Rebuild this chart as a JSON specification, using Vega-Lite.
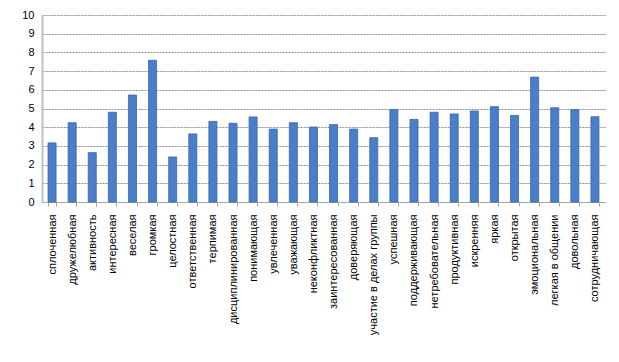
{
  "$schema": "https://vega.github.io/schema/vega-lite/v6.json",
  "width": 563,
  "height": 187,
  "autosize": {"type": "none"},
  "padding": {"left": 42, "top": 15, "right": 14, "bottom": 160},
  "background": "white",
  "data": {"values": [
    {"k": "сплоченная", "v": 3.16},
    {"k": "дружелюбная", "v": 4.24},
    {"k": "активность", "v": 2.64},
    {"k": "интересная", "v": 4.8},
    {"k": "веселая", "v": 5.72},
    {"k": "громкая", "v": 7.58},
    {"k": "целостная", "v": 2.41},
    {"k": "ответственная", "v": 3.64},
    {"k": "терпимая", "v": 4.31},
    {"k": "дисциплинированная", "v": 4.21},
    {"k": "понимающая", "v": 4.55},
    {"k": "увлеченная", "v": 3.9},
    {"k": "уважающая", "v": 4.24},
    {"k": "неконфликтная", "v": 4.01},
    {"k": "заинтересованная", "v": 4.14},
    {"k": "доверяющая", "v": 3.9},
    {"k": "участие в делах группы", "v": 3.44},
    {"k": "успешная", "v": 4.94},
    {"k": "поддерживающая", "v": 4.42},
    {"k": "нетребовательная", "v": 4.8},
    {"k": "продуктивная", "v": 4.71},
    {"k": "искренняя", "v": 4.87},
    {"k": "яркая", "v": 5.1},
    {"k": "открытая", "v": 4.63},
    {"k": "эмоциональная", "v": 6.68},
    {"k": "легкая в общении", "v": 5.04},
    {"k": "довольная", "v": 4.94},
    {"k": "сотрудничающая", "v": 4.56}
  ]},
  "mark": {"type": "bar", "fill": "#4a7ec9", "stroke": "#3a66a8", "strokeWidth": 0.8},
  "encoding": {
    "x": {
      "field": "k", "type": "nominal", "sort": null, "title": null,
      "scale": {"paddingInner": 0.6, "paddingOuter": 0.3},
      "axis": {
        "labelAngle": -90, "labelAlign": "right", "labelBaseline": "middle",
        "labelFont": "Liberation Sans", "labelFontSize": 11, "labelColor": "#000000",
        "labelPadding": 8, "labelOverlap": false, "tickBand": "extent", "tickSize": 4, "tickColor": "#a6a6a6",
        "domainColor": "#a6a6a6", "grid": false
      }
    },
    "y": {
      "field": "v", "type": "quantitative", "title": null,
      "scale": {"domain": [0, 10], "nice": false},
      "axis": {
        "values": [0,1,2,3,4,5,6,7,8,9,10],
        "labelFont": "Liberation Sans", "labelFontSize": 11, "labelColor": "#000000",
        "labelPadding": 8, "labelOverlap": false, "ticks": false, "domainColor": "#bfbfbf", "domainWidth": 2,
        "grid": true, "gridColor": "#909090", "gridDash": [2, 1], "gridWidth": 1
      }
    }
  },
  "config": {"view": {"stroke": null}}
}
